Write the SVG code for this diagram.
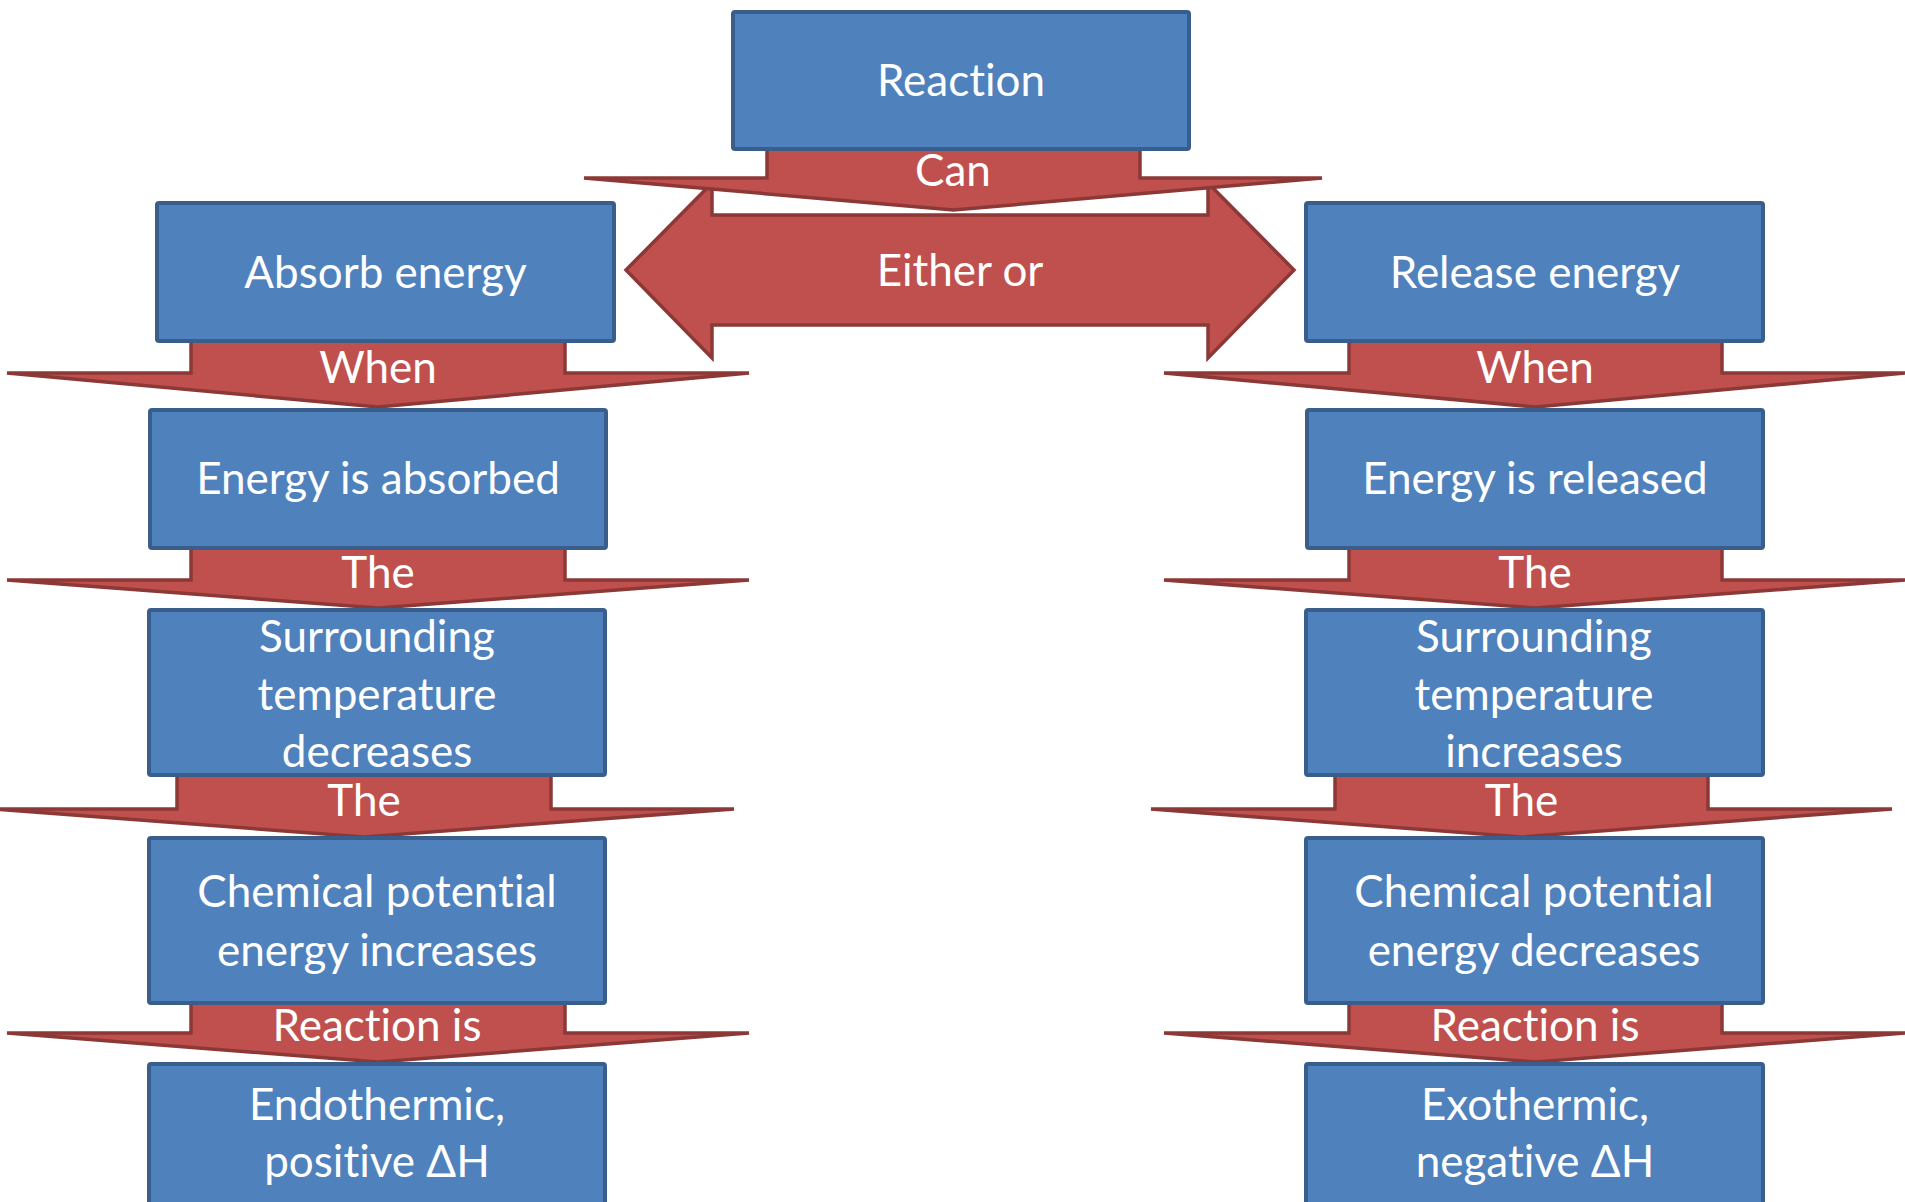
<svg xmlns="http://www.w3.org/2000/svg" width="1905" height="1202" viewBox="0 0 1905 1202">
<style>
.box{fill:#4F81BD;stroke:#3A5E8C;stroke-width:4}
.arr{fill:#C0504D;stroke:#8C3836;stroke-width:3.5;stroke-linejoin:miter;stroke-miterlimit:4}
text{font-family:Lato,"Open Sans","Liberation Sans",sans-serif;font-size:44px;fill:#FFFFFF;text-anchor:middle;font-variant-ligatures:none;font-feature-settings:"liga" 0,"dlig" 0}
</style>
<rect width="1905" height="1202" fill="#FFFFFF"/>
<g id="connectors">
  <g id="either-or">
    <polygon class="arr" points="626,270 712,183 712,215 1208,215 1208,183 1294,270 1208,358 1208,325 712,325 712,358"/>
    <text x="960" y="286">Either or</text>
  </g>
  <g id="can">
    <polygon class="arr" points="767,145 1140,145 1140,178 1322,178 953.5,210 584,178 767,178"/>
    <text x="953" y="186">Can</text>
  </g>
  <g id="when-left">
    <polygon class="arr" points="191,339 565,339 565,373 749,373 378,407 7,373 191,373"/>
    <text x="378" y="383">When</text>
  </g>
  <g id="the1-left">
    <polygon class="arr" points="191,546 565,546 565,580 749,580 378,608 7,580 191,580"/>
    <text x="378" y="588">The</text>
  </g>
  <g id="the2-left">
    <polygon class="arr" points="177,773 551,773 551,809 734,809 364,837 -6,809 177,809"/>
    <text x="364" y="816">The</text>
  </g>
  <g id="reaction-is-left">
    <polygon class="arr" points="191,1001 565,1001 565,1033 749,1033 378,1062 7,1033 191,1033"/>
    <text x="377" y="1041">Reaction is</text>
  </g>
  <g id="when-right">
    <polygon class="arr" points="1349,339 1722,339 1722,373 1906,373 1535.5,407 1164,373 1349,373"/>
    <text x="1535" y="383">When</text>
  </g>
  <g id="the1-right">
    <polygon class="arr" points="1349,546 1722,546 1722,580 1906,580 1535.5,608 1164,580 1349,580"/>
    <text x="1535" y="588">The</text>
  </g>
  <g id="the2-right">
    <polygon class="arr" points="1335,773 1708,773 1708,809 1892,809 1521.5,837 1151,809 1335,809"/>
    <text x="1521.5" y="816">The</text>
  </g>
  <g id="reaction-is-right">
    <polygon class="arr" points="1349,1001 1722,1001 1722,1033 1906,1033 1535.5,1062 1164,1033 1349,1033"/>
    <text x="1535" y="1041">Reaction is</text>
  </g>
</g>
<g id="reaction">
  <rect class="box" x="733" y="12" width="456" height="137" rx="2"/>
  <text x="961" y="96">Reaction</text>
</g>
<g id="absorb-energy">
  <rect class="box" x="157" y="203" width="457" height="138" rx="2"/>
  <text x="385.5" y="288">Absorb energy</text>
</g>
<g id="release-energy">
  <rect class="box" x="1306" y="203" width="457" height="138" rx="2"/>
  <text x="1535" y="288">Release energy</text>
</g>
<g id="energy-absorbed">
  <rect class="box" x="150" y="410" width="456" height="138" rx="2"/>
  <text x="378" y="494">Energy is absorbed</text>
</g>
<g id="energy-released">
  <rect class="box" x="1307" y="410" width="456" height="138" rx="2"/>
  <text x="1535" y="494">Energy is released</text>
</g>
<g id="surrounding-decreases">
  <rect class="box" x="149" y="610" width="456" height="165" rx="2"/>
  <text x="377" y="652">Surrounding</text>
  <text x="377" y="709.5">temperature</text>
  <text x="377" y="767">decreases</text>
</g>
<g id="surrounding-increases">
  <rect class="box" x="1306" y="610" width="457" height="165" rx="2"/>
  <text x="1534" y="652">Surrounding</text>
  <text x="1534" y="709.5">temperature</text>
  <text x="1534" y="767">increases</text>
</g>
<g id="chemical-increases">
  <rect class="box" x="149" y="838" width="456" height="165" rx="2"/>
  <text x="377" y="907">Chemical potential</text>
  <text x="377" y="965.5">energy increases</text>
</g>
<g id="chemical-decreases">
  <rect class="box" x="1306" y="838" width="457" height="165" rx="2"/>
  <text x="1534" y="907">Chemical potential</text>
  <text x="1534" y="965.5">energy decreases</text>
</g>
<g id="endothermic">
  <rect class="box" x="149" y="1064" width="456" height="146" rx="2"/>
  <text x="377" y="1120">Endothermic,</text>
  <text x="377" y="1177">positive ΔH</text>
</g>
<g id="exothermic">
  <rect class="box" x="1306" y="1064" width="457" height="146" rx="2"/>
  <text x="1535" y="1120">Exothermic,</text>
  <text x="1535" y="1177">negative ΔH</text>
</g>
</svg>
